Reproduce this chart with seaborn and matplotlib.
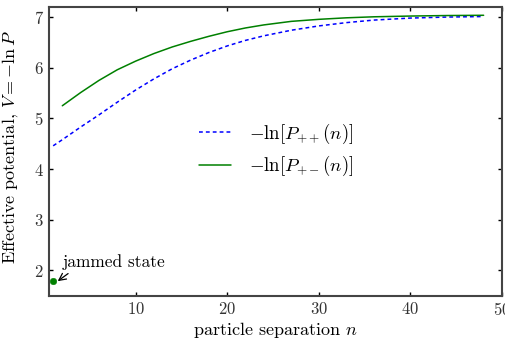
import numpy as np
import pandas as pd
import matplotlib
matplotlib.use('Agg')
import matplotlib.pyplot as plt
import seaborn as sns

# values
n_pp = [1, 2, 4, 6, 8, 10, 12, 14, 16, 18, 20, 22, 24, 27, 30, 33, 36, 40, 44, 48]
v_pp = [4.46, 4.58, 4.83, 5.07, 5.32, 5.56, 5.78, 5.98, 6.15, 6.30, 6.43, 6.54,
        6.63, 6.74, 6.825, 6.89, 6.94, 6.98, 7.00, 7.01]
n_pm = [2, 4, 6, 8, 10, 12, 14, 16, 18, 20, 22, 24, 27, 30, 33, 36, 40, 44, 48]
v_pm = [5.25, 5.51, 5.75, 5.96, 6.13, 6.28, 6.41, 6.52, 6.62, 6.71, 6.785, 6.845,
        6.915, 6.955, 6.985, 7.005, 7.02, 7.03, 7.035]
jam_n = [1]
jam_v = [1.79]

sns.set_style('ticks')
plt.rcParams['mathtext.fontset'] = 'cm'
plt.rcParams['font.family'] = ['cmr10', 'DejaVu Serif']
plt.rcParams['axes.formatter.use_mathtext'] = True
plt.rcParams['axes.unicode_minus'] = False
plt.rcParams['text.color'] = 'black'
plt.rcParams['axes.labelcolor'] = 'black'

fig = plt.figure(figsize=(5.06, 3.46), dpi=100)
ax = fig.add_axes([0.096, 0.145, 0.896, 0.835])

df_pp = pd.DataFrame({'n': n_pp, 'V': v_pp})
df_pm = pd.DataFrame({'n': n_pm, 'V': v_pm})
sns.lineplot(data=df_pp, x='n', y='V', ax=ax, color='blue', lw=1.1,
             label=r'$-\ln[P_{++}(n)]$')
ax.lines[-1].set_dashes((2.5, 2.0))
sns.lineplot(data=df_pm, x='n', y='V', ax=ax, color='green', lw=1.1,
             label=r'$-\ln[P_{+-}(n)]$')
sns.scatterplot(x=jam_n, y=jam_v, ax=ax, color='green', s=22, edgecolor='green',
                zorder=5)

ax.annotate('jammed state', xy=(jam_n[0] + 0.5, jam_v[0]), xytext=(2.0, 2.16),
            fontsize=12.5, family='cmr10', va='center', color='black',
            arrowprops=dict(arrowstyle='->', color='black', lw=0.9,
                            shrinkA=0, shrinkB=0, relpos=(0.1, 0.0)))

ax.set_xlim(0.5, 50)
ax.set_ylim(1.5, 7.2)
ax.set_xticks([10, 20, 30, 40, 50])
ax.set_yticks([2, 3, 4, 5, 6, 7])
ax.tick_params(direction='in', top=True, right=True, length=3, width=1,
               labelsize=12, colors='black', labelcolor='#333333')
for s in ax.spines.values():
    s.set_linewidth(1.5)
    s.set_color('#444444')
    s.set_visible(True)

ax.set_xlabel(r'particle separation $n$', fontsize=13, family='cmr10')
ax.xaxis.set_label_coords(0.5, -0.085)
ax.set_ylabel(r'Effective potential, $V = -\ln P$', fontsize=13, family='cmr10')
ax.yaxis.set_label_coords(-0.064, 0.517)

leg = ax.legend(loc='center', bbox_to_anchor=(0.502, 0.505), frameon=False,
                fontsize=13.5, handlelength=1.7, handletextpad=1.0,
                labelspacing=0.45)

fig.savefig('out.png', dpi=100)
